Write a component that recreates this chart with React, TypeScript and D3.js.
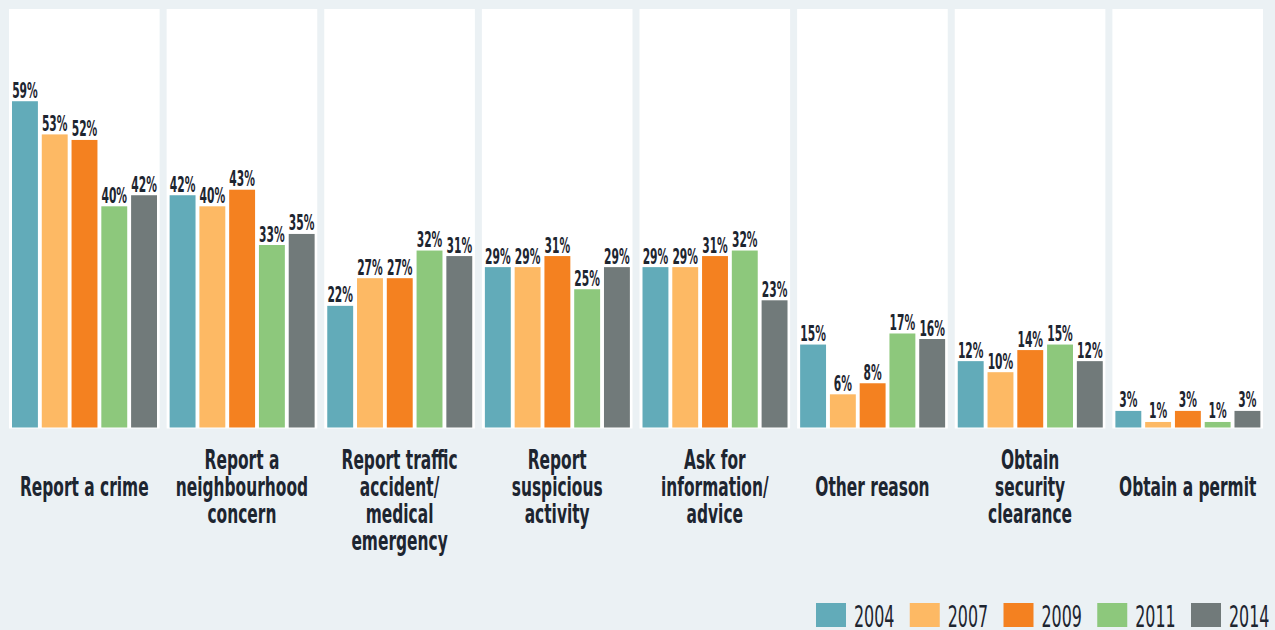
import React from "react";
import * as d3 from "d3";

const categories = [
  ["Report a crime"],
  ["Report a", "neighbourhood", "concern"],
  ["Report traffic", "accident/", "medical", "emergency"],
  ["Report", "suspicious", "activity"],
  ["Ask for", "information/", "advice"],
  ["Other reason"],
  ["Obtain", "security", "clearance"],
  ["Obtain a permit"],
];
const years = ["2004", "2007", "2009", "2011", "2014"];
const colors = ["#62abb9", "#fdb964", "#f48120", "#8dc87c", "#717a7a"];
const values = [
  [59, 53, 52, 40, 42],
  [42, 40, 43, 33, 35],
  [22, 27, 27, 32, 31],
  [29, 29, 31, 25, 29],
  [29, 29, 31, 32, 23],
  [15, 6, 8, 17, 16],
  [12, 10, 14, 15, 12],
  [3, 1, 3, 1, 3],
];

const W = 1275;
const H = 630;
const FONT = "'DejaVu Sans Condensed', 'Liberation Sans Narrow', sans-serif";
const TEXT = "#1d2530";

export default function App() {
  const panelTop = 9;
  const baseY = 427.5;
  const panelBottom = 428.5;
  const xPanel = d3
    .scaleBand<number>()
    .domain(d3.range(categories.length))
    .range([9, 1263])
    .paddingInner(0.0445)
    .paddingOuter(0);
  const xBar = d3
    .scaleBand<string>()
    .domain(years)
    .range([3, 148])
    .paddingInner(0.13)
    .paddingOuter(0);
  const y = d3.scaleLinear().domain([0, 100]).range([baseY, baseY - 553]);

  const legendX = d3.scalePoint<string>().domain(years).range([816, 1191]);

  return (
    <svg
      width={W}
      height={H}
      style={{ position: "absolute", left: 0, top: 0 }}
      fontFamily={FONT}
    >
      <rect x={0} y={0} width={W} height={H} fill="#ebf1f4" />
      {categories.map((lines, ci) => {
        const px = xPanel(ci)!;
        const pw = xPanel.bandwidth();
        const n = lines.length;
        const b0 = 496 - Math.floor((n - 1) / 2) * 27;
        return (
          <g key={ci}>
            <rect x={px} y={panelTop} width={pw} height={panelBottom - panelTop} fill="#ffffff" />
            {values[ci].map((v, yi) => {
              const bx = px + xBar(years[yi])!;
              const bw = xBar.bandwidth();
              const top = y(v);
              const cx = bx + bw / 2;
              return (
                <g key={yi}>
                  <rect
                    x={bx}
                    y={top}
                    width={bw}
                    height={baseY - top}
                    fill={colors[yi]}
                  />
                  <text
                    transform={`translate(${cx},${top - 3.5}) scale(0.58,1)`}
                    textAnchor="middle"
                    fontSize={20.5}
                    fontWeight="bold"
                    fill={TEXT}
                  >
                    {v}%
                  </text>
                </g>
              );
            })}
            {lines.map((ln, li) => (
              <text
                key={li}
                transform={`translate(${px + pw / 2},${b0 + li * 27}) scale(0.66,1)`}
                textAnchor="middle"
                fontSize={26}
                fontWeight="bold"
                fill={TEXT}
              >
                {ln}
              </text>
            ))}
          </g>
        );
      })}
      {years.map((yr, i) => {
        const lx = legendX(yr)!;
        return (
          <g key={yr}>
            <rect x={lx} y={603} width={30} height={24} fill={colors[i]} />
            <text
              transform={`translate(${lx + 38},${627}) scale(0.57,1)`}
              fontSize={31}
              fill={TEXT}
            >
              {yr}
            </text>
          </g>
        );
      })}
    </svg>
  );
}
